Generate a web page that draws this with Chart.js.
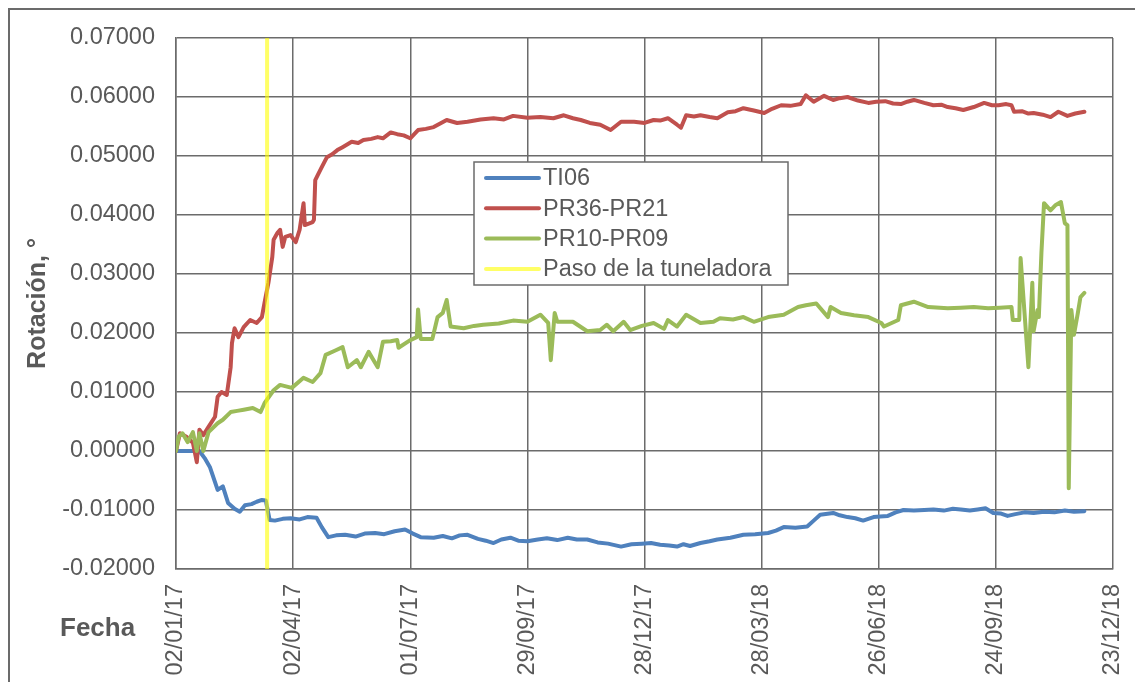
<!DOCTYPE html>
<html>
<head>
<meta charset="utf-8">
<title>Rotación</title>
<script src="https://cdn.jsdelivr.net/npm/chart.js@4/dist/chart.umd.min.js"></script>
<style>
  body { margin: 0; background: #fff; }
  #wrap { width: 1135px; height: 682px; position: relative; }
</style>
</head>
<body>
<div id="wrap"><canvas id="rotChart"></canvas></div>
<script>
// x values are days counted from 02/01/17
const xTickLabels = ['02/01/17', '02/04/17', '01/07/17', '29/09/17', '28/12/17', '28/03/18', '26/06/18', '24/09/18', '23/12/18'];
const yTickMin = -0.02;
const yTickMax = 0.07;

const ti06Days = [0, 18, 22, 26, 32, 36, 40, 45, 49, 53, 58, 62, 66, 69, 72, 76, 82, 88, 95, 101, 108, 112, 117, 123, 130, 138, 145, 153, 160, 168, 176, 182, 188, 198, 205, 212, 218, 224, 232, 238, 244, 250, 257, 263, 270, 278, 285, 293, 301, 308, 316, 324, 332, 342, 350, 358, 365, 372, 379, 385, 390, 395, 403, 410, 416, 426, 436, 445, 455, 461, 467, 476, 485, 490, 495, 505, 510, 516, 522, 528, 536, 541, 547, 553, 559, 567, 575, 582, 590, 597, 603, 610, 616, 622, 628, 634, 639, 645, 652, 659, 667, 675, 683, 690, 698];
const ti06Values = [0, 0, -0.0012, -0.0027, -0.0066, -0.0060, -0.0088, -0.0098, -0.0103, -0.0092, -0.0090, -0.0086, -0.0083, -0.0084, -0.0117, -0.0118, -0.0115, -0.0114, -0.0116, -0.0112, -0.0113, -0.0129, -0.0146, -0.0143, -0.0142, -0.0145, -0.0140, -0.0139, -0.0141, -0.0136, -0.0133, -0.0140, -0.0146, -0.0147, -0.0144, -0.0148, -0.0143, -0.0142, -0.0149, -0.0152, -0.0156, -0.0150, -0.0147, -0.0152, -0.0153, -0.0150, -0.0148, -0.0151, -0.0147, -0.0150, -0.0150, -0.0155, -0.0157, -0.0162, -0.0158, -0.0157, -0.0156, -0.0159, -0.0160, -0.0162, -0.0158, -0.0161, -0.0156, -0.0153, -0.0150, -0.0147, -0.0142, -0.0141, -0.0139, -0.0135, -0.0129, -0.0130, -0.0128, -0.0118, -0.0108, -0.0105, -0.0109, -0.0112, -0.0114, -0.0118, -0.0112, -0.0111, -0.0110, -0.0104, -0.0100, -0.0101, -0.0100, -0.0099, -0.0101, -0.0098, -0.0099, -0.0101, -0.0099, -0.0097, -0.0105, -0.0106, -0.0110, -0.0107, -0.0104, -0.0105, -0.0103, -0.0104, -0.0101, -0.0103, -0.0102];

const pr36Days = [0, 3, 8, 13, 16, 18, 21, 25, 30, 32, 35, 39, 42, 43, 45, 48, 52, 57, 62, 66, 68, 71, 74, 75, 78, 80, 82, 84, 88, 92, 95, 98, 99, 105, 106, 107, 109, 112, 116, 120, 124, 128, 135, 140, 144, 150, 155, 159, 165, 170, 175, 180, 186, 192, 198, 203, 208, 216, 224, 234, 244, 252, 259, 270, 280, 290, 298, 305, 311, 318, 326, 334, 342, 352, 360, 367, 372, 378, 385, 388, 392, 398, 403, 410, 416, 424, 430, 436, 444, 452, 458, 465, 472, 480, 484, 490, 498, 505, 510, 516, 524, 532, 538, 545, 551, 557, 562, 567, 575, 582, 588, 593, 599, 605, 613, 621, 627, 632, 638, 642, 644, 650, 655, 659, 666, 672, 678, 685, 691, 698];
const pr36Values = [0, 0.0030, 0.0024, 0.0014, -0.0019, 0.0036, 0.0027, 0.0041, 0.0058, 0.0092, 0.0100, 0.0095, 0.0142, 0.0183, 0.0208, 0.0193, 0.0210, 0.0222, 0.0217, 0.0227, 0.0251, 0.0285, 0.0329, 0.0358, 0.0370, 0.0375, 0.0346, 0.0363, 0.0366, 0.0354, 0.0375, 0.0420, 0.0383, 0.0388, 0.0392, 0.0459, 0.0468, 0.0481, 0.0498, 0.0503, 0.0510, 0.0515, 0.0524, 0.0522, 0.0527, 0.0529, 0.0532, 0.0530, 0.0540, 0.0537, 0.0535, 0.0530, 0.0544, 0.0546, 0.0549, 0.0555, 0.0561, 0.0556, 0.0558, 0.0562, 0.0564, 0.0562, 0.0568, 0.0565, 0.0566, 0.0564, 0.0569, 0.0564, 0.0561, 0.0556, 0.0553, 0.0544, 0.0558, 0.0558, 0.0556, 0.0561, 0.0560, 0.0564, 0.0553, 0.0548, 0.0569, 0.0567, 0.0569, 0.0566, 0.0564, 0.0574, 0.0576, 0.0581, 0.0577, 0.0573, 0.0580, 0.0586, 0.0585, 0.0588, 0.0603, 0.0592, 0.0602, 0.0595, 0.0598, 0.0600, 0.0594, 0.0590, 0.0592, 0.0593, 0.0589, 0.0588, 0.0592, 0.0595, 0.0590, 0.0586, 0.0587, 0.0583, 0.0581, 0.0578, 0.0583, 0.0590, 0.0586, 0.0586, 0.0588, 0.0586, 0.0575, 0.0576, 0.0572, 0.0573, 0.0570, 0.0566, 0.0575, 0.0568, 0.0572, 0.0575];

const pr10Days = [0, 2, 5, 9, 13, 16, 18, 21, 25, 32, 36, 42, 47, 52, 59, 65, 68, 75, 80, 89, 98, 105, 111, 115, 122, 128, 132, 139, 142, 148, 155, 159, 165, 170, 171, 180, 185, 186, 188, 197, 201, 205, 208, 211, 221, 229, 236, 248, 259, 270, 280, 286, 288, 291, 293, 305, 316, 326, 331, 336, 344, 349, 358, 367, 375, 378, 385, 392, 403, 413, 418, 428, 436, 444, 455, 467, 478, 484, 492, 501, 503, 511, 521, 532, 542, 544, 555, 557, 567, 578, 593, 603, 613, 624, 633, 642, 643, 648, 649, 655, 658, 659, 662, 663, 665, 667, 672, 676, 680, 683, 685, 686, 688, 690, 693, 695, 698];
const pr10Values = [0, 0.0024, 0.0030, 0.0015, 0.0032, 0, 0.0030, 0, 0.0032, 0.0047, 0.0053, 0.0066, 0.0068, 0.0070, 0.0073, 0.0066, 0.0081, 0.0103, 0.0112, 0.0107, 0.0124, 0.0117, 0.0132, 0.0163, 0.0170, 0.0176, 0.0142, 0.0154, 0.0142, 0.0168, 0.0142, 0.0185, 0.0186, 0.0188, 0.0175, 0.0188, 0.0193, 0.0240, 0.0190, 0.0190, 0.0227, 0.0234, 0.0256, 0.0211, 0.0208, 0.0212, 0.0214, 0.0216, 0.0221, 0.0219, 0.0231, 0.0217, 0.0154, 0.0234, 0.0219, 0.0219, 0.0203, 0.0205, 0.0214, 0.0203, 0.0219, 0.0205, 0.0212, 0.0217, 0.0207, 0.0222, 0.0211, 0.0231, 0.0217, 0.0219, 0.0225, 0.0223, 0.0227, 0.0219, 0.0227, 0.0231, 0.0244, 0.0247, 0.0250, 0.0227, 0.0244, 0.0234, 0.0230, 0.0227, 0.0217, 0.0211, 0.0222, 0.0247, 0.0253, 0.0244, 0.0242, 0.0243, 0.0244, 0.0242, 0.0243, 0.0244, 0.0222, 0.0222, 0.0327, 0.0142, 0.0285, 0.0203, 0.0239, 0.0227, 0.0336, 0.0420, 0.0408, 0.0417, 0.0422, 0.0386, 0.0383, -0.0063, 0.0239, 0.0197, 0.0234, 0.0261, 0.0268];

// paso de la tuneladora (13/03/17)
const tbmDay = 70;

const seriesLabels = ['TI06', 'PR36-PR21', 'PR10-PR09', 'Paso de la tuneladora'];
const seriesColors = ['#4F81BD', '#C0504D', '#9BBB59', 'rgba(255,255,0,0.6)'];

const textColor = '#595959';
const gridColor = '#6b6b6b';
const fontName = '"Liberation Sans", Arial, sans-serif';

function toPoints(days, values) {
  return days.map(function (d, i) { return { x: d, y: values[i] }; });
}

function lineSet(idx, points, order) {
  return {
    label: seriesLabels[idx],
    data: points,
    borderColor: seriesColors[idx],
    backgroundColor: seriesColors[idx],
    borderWidth: 4,
    pointRadius: 0,
    tension: 0,
    borderJoinStyle: 'round',
    borderCapStyle: 'round',
    order: order
  };
}

// white background + grey outer frame
const framePlugin = {
  id: 'frame',
  beforeDraw: function (chart) {
    const ctx = chart.ctx;
    ctx.save();
    ctx.fillStyle = '#fff';
    ctx.fillRect(0, 0, chart.width, chart.height);
    ctx.strokeStyle = '#6b6b6b';
    ctx.lineWidth = 2;
    ctx.strokeRect(9, 9, chart.width + 200, chart.height + 200);
    ctx.restore();
  }
};

// legend box inside the plot + "Fecha" label
const boxLegendPlugin = {
  id: 'boxLegend',
  afterDraw: function (chart) {
    const ctx = chart.ctx;
    const area = chart.chartArea;
    const bx = area.left + 298;
    const by = area.top + 124;
    const bw = 314;
    const bh = 123;
    ctx.save();
    ctx.fillStyle = '#fff';
    ctx.fillRect(bx, by, bw, bh);
    ctx.strokeStyle = '#6b6b6b';
    ctx.lineWidth = 1.5;
    ctx.strokeRect(bx, by, bw, bh);
    ctx.font = '23.5px ' + fontName;
    ctx.textBaseline = 'middle';
    chart.data.datasets.forEach(function (ds, i) {
      const rowY = by + 16 + i * 30.3;
      ctx.strokeStyle = ds.borderColor;
      ctx.lineWidth = 4;
      ctx.lineCap = 'round';
      ctx.beginPath();
      ctx.moveTo(bx + 12, rowY);
      ctx.lineTo(bx + 65, rowY);
      ctx.stroke();
      ctx.fillStyle = textColor;
      ctx.fillText(ds.label, bx + 69, rowY + 1);
    });

    ctx.font = 'bold 26px ' + fontName;
    ctx.textBaseline = 'alphabetic';
    ctx.fillStyle = textColor;
    ctx.fillText('Fecha', 60, 636);
    ctx.restore();
  }
};

const rotData = {
  datasets: [
    lineSet(0, toPoints(ti06Days, ti06Values), 3),
    lineSet(1, toPoints(pr36Days, pr36Values), 2),
    lineSet(2, toPoints(pr10Days, pr10Values), 1),
    lineSet(3, [{ x: tbmDay, y: yTickMin }, { x: tbmDay, y: yTickMax }], 0)
  ]
};

new Chart(document.getElementById('rotChart'), {
  type: 'line',
  data: rotData,
  plugins: [framePlugin, boxLegendPlugin],
  options: {
    responsive: true,
    maintainAspectRatio: false,
    animation: false,
    layout: { padding: { top: 38, right: 22, left: 0, bottom: 0 } },
    plugins: {
      legend: { display: false },
      tooltip: { enabled: false }
    },
    scales: {
      x: {
        type: 'linear',
        min: 0,
        max: (xTickLabels.length - 1) * 90,
        afterBuildTicks: function (scale) {
          scale.ticks = xTickLabels.map(function (l, i) { return { value: i * 90 }; });
        },
        afterFit: function (scale) {
          scale.height = 113;
          scale.paddingLeft = 0;
          scale.paddingRight = 0;
        },
        ticks: {
          autoSkip: false,
          minRotation: 90,
          maxRotation: 90,
          padding: 15,
          color: textColor,
          font: { family: fontName, size: 23.5 },
          callback: function (v) { return xTickLabels[Math.round(v / 90)]; }
        },
        grid: { color: gridColor, lineWidth: 1.5, drawTicks: false },
        border: { color: gridColor, width: 1.5 }
      },
      y: {
        min: yTickMin,
        max: yTickMax,
        afterFit: function (scale) {
          scale.width = 176;
          scale.paddingTop = 0;
          scale.paddingBottom = 0;
        },
        ticks: {
          stepSize: 0.01,
          padding: 21,
          color: textColor,
          font: { family: fontName, size: 23.5 },
          callback: function (v) {
            if (Math.abs(v) < 1e-9) v = 0;
            return v.toFixed(5);
          }
        },
        title: {
          display: true,
          text: 'Rotación, °',
          color: textColor,
          font: { family: fontName, size: 25, weight: 'bold' },
          padding: { top: 23, bottom: 0 }
        },
        grid: { color: gridColor, lineWidth: 1.5, drawTicks: false },
        border: { color: gridColor, width: 1.5 }
      }
    }
  }
});
</script>
</body>
</html>
